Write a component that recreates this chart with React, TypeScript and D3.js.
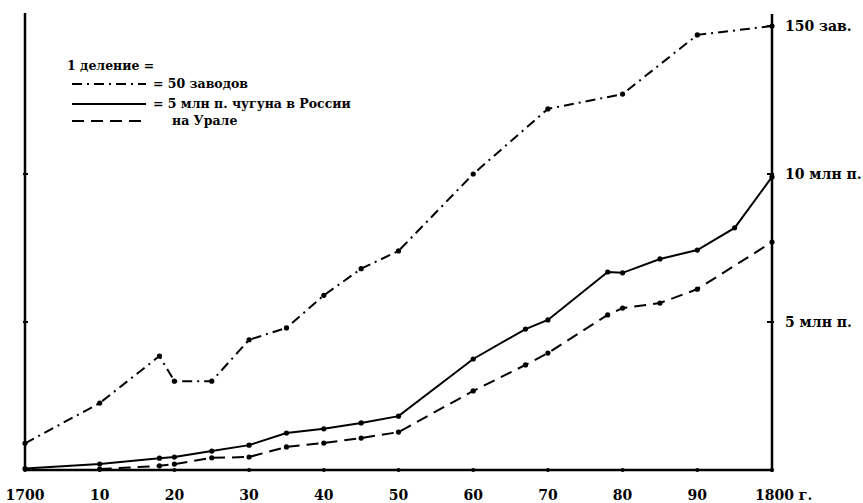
import React from 'react';
import * as d3 from 'd3';

// years on the x axis and their labels
const tickYears = [1700, 1710, 1720, 1730, 1740, 1750, 1760, 1770, 1780, 1790, 1800];
const tickLabels = ['1700', '10', '20', '30', '40', '50', '60', '70', '80', '90', '1800 г.'];

// number of works (1 division = 50)
const factoryYears = [1700, 1710, 1718, 1720, 1725, 1730, 1735, 1740, 1745, 1750, 1760, 1770, 1780, 1790, 1800];
const factoryValues = [9, 22.6, 38.5, 30, 30, 44, 48, 59, 68, 74, 100, 122, 127, 147, 150];

// pig iron in Russia, mln pood (1 division = 5)
const russiaYears = [1700, 1710, 1718, 1720, 1725, 1730, 1735, 1740, 1745, 1750, 1760, 1767, 1770, 1778, 1780, 1785, 1790, 1795, 1800];
const russiaValues = [0.05, 0.2, 0.4, 0.44, 0.64, 0.84, 1.25, 1.39, 1.59, 1.82, 3.75, 4.76, 5.07, 6.69, 6.66, 7.13, 7.43, 8.18, 9.9];

// pig iron in the Urals, mln pood
const uralYears = [1710, 1718, 1720, 1725, 1730, 1735, 1740, 1745, 1750, 1760, 1767, 1770, 1778, 1780, 1785, 1790, 1800];
const uralValues = [0.03, 0.14, 0.2, 0.41, 0.44, 0.78, 0.91, 1.08, 1.28, 2.67, 3.55, 3.95, 5.24, 5.47, 5.64, 6.11, 7.7];

// right-hand labels in divisions
const rightLabels = [
  { div: 3, text: '150 зав.' },
  { div: 2, text: '10 млн п.' },
  { div: 1, text: '5 млн п.' },
];

const font = '"DejaVu Serif", "Liberation Serif", serif';

const App: React.FC = () => {
  const width = 863;
  const height = 503;

  const x = d3.scaleLinear().domain([1700, 1800]).range([25, 772]);
  const y = d3.scaleLinear().domain([0, 3]).range([470, 26]);

  const line = d3.line<[number, number]>()
    .x(d => x(d[0]))
    .y(d => y(d[1]));

  const factories: [number, number][] = factoryYears.map((yr, i) => [yr, factoryValues[i] / 50]);
  const russia: [number, number][] = russiaYears.map((yr, i) => [yr, russiaValues[i] / 5]);
  const ural: [number, number][] = uralYears.map((yr, i) => [yr, uralValues[i] / 5]);

  const series = [
    { data: factories, dash: '10,5,2,5' },
    { data: russia, dash: undefined },
    { data: ural, dash: '12,7' },
  ];

  return (
    <svg width={width} height={height} style={{ position: 'absolute', left: 0, top: 0, background: '#fff' }}>
      {/* axes */}
      <line x1={x(1700)} x2={x(1700)} y1={13} y2={y(0) + 1} stroke="#000" strokeWidth={2.5} />
      <line x1={x(1800)} x2={x(1800)} y1={14} y2={y(0) + 2} stroke="#000" strokeWidth={2.5} />
      <line x1={x(1700)} x2={x(1800)} y1={y(0)} y2={y(0)} stroke="#000" strokeWidth={2.5} />

      {/* axis tick marks */}
      {tickYears.map(t => (
        <circle key={'bt' + t} cx={x(t)} cy={y(0)} r={2} fill="#000" />
      ))}
      {[1, 2].map(d => (
        <line key={'lt' + d} x1={x(1700) - 2} x2={x(1700) + 3} y1={y(d)} y2={y(d)} stroke="#000" strokeWidth={2} />
      ))}
      {[1, 2, 3].map(d => (
        <line key={'rt' + d} x1={x(1800) - 5} x2={x(1800) + 2} y1={y(d)} y2={y(d)} stroke="#000" strokeWidth={2} />
      ))}

      {/* series */}
      {series.map((s, i) => (
        <g key={i}>
          <path d={line(s.data) || ''} fill="none" stroke="#000" strokeWidth={2} strokeDasharray={s.dash} />
          {s.data.map((d, j) => (
            <circle key={j} cx={x(d[0])} cy={y(d[1])} r={2.6} fill="#000" />
          ))}
        </g>
      ))}

      {/* x labels */}
      {tickYears.map((t, i) => (
        <text
          key={'xl' + t}
          x={i === tickYears.length - 1 ? x(t) - 17 : x(t)}
          y={500}
          textAnchor={i === tickYears.length - 1 ? 'start' : 'middle'}
          fontFamily={font}
          fontWeight="bold"
          fontSize={14}
        >
          {tickLabels[i]}
        </text>
      ))}

      {/* right labels */}
      {rightLabels.map(l => (
        <text key={l.text} x={x(1800) + 13} y={y(l.div) + 5} fontFamily={font} fontWeight="bold" fontSize={14}>
          {l.text}
        </text>
      ))}

      {/* legend */}
      <g fontFamily={font} fontWeight="bold" fontSize={12.5}>
        <text x={67} y={70}>1 деление =</text>
        <line x1={72} x2={146} y1={84} y2={84} stroke="#000" strokeWidth={2} strokeDasharray="10,5,2,5" />
        <text x={153} y={88}>= 50 заводов</text>
        <line x1={72} x2={146} y1={104} y2={104} stroke="#000" strokeWidth={2} />
        <text x={153} y={108}>= 5 млн п. чугуна в России</text>
        <line x1={72} x2={146} y1={121} y2={121} stroke="#000" strokeWidth={2} strokeDasharray="12,7" />
        <text x={172} y={125}>на Урале</text>
      </g>
    </svg>
  );
};

export default App;
